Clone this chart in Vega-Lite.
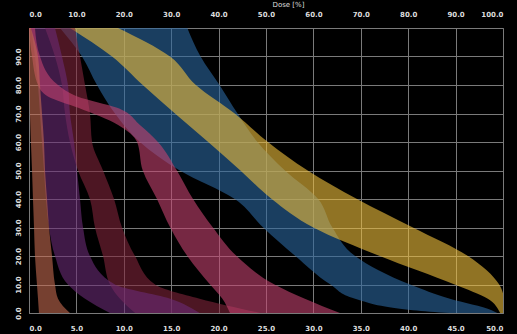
{
  "$schema": "https://vega.github.io/schema/vega-lite/v6.json",
  "width": 474,
  "height": 285,
  "autosize": {"type": "none"},
  "padding": {"left": 29, "top": 28, "right": 14, "bottom": 21},
  "background": "#000000",
  "config": {
    "view": {"stroke": "#7a7a7a", "strokeWidth": 1},
    "axis": {
      "domain": false,
      "ticks": false,
      "gridColor": "#7a7a7a",
      "gridOpacity": 1,
      "gridWidth": 1,
      "labelColor": "#dddddd",
      "labelFont": "DejaVu Sans",
      "labelFontSize": 7,
      "labelFontWeight": "bold",
      "titleColor": "#dddddd",
      "titleFont": "DejaVu Sans",
      "titleFontSize": 7,
      "titleFontWeight": "normal"
    }
  },
  "datasets": {
    "bands": [
      {"band": "B", "vol": 100, "lo": 3.27, "hi": 16.7},
      {"band": "B", "vol": 90, "lo": 5.59, "hi": 18.1},
      {"band": "B", "vol": 80, "lo": 7.17, "hi": 20.1},
      {"band": "B", "vol": 70, "lo": 9.07, "hi": 22.0},
      {"band": "B", "vol": 60, "lo": 11.7, "hi": 24.1},
      {"band": "B", "vol": 50, "lo": 15.9, "hi": 27.0},
      {"band": "B", "vol": 40, "lo": 21.7, "hi": 30.5},
      {"band": "B", "vol": 30, "lo": 24.7, "hi": 32.0},
      {"band": "B", "vol": 20, "lo": 28.1, "hi": 34.4},
      {"band": "B", "vol": 10, "lo": 31.8, "hi": 40.2},
      {"band": "B", "vol": 5, "lo": 34.4, "hi": 44.4},
      {"band": "B", "vol": 1, "lo": 40.5, "hi": 48.8},
      {"band": "B", "vol": 0, "lo": 44.4, "hi": 49.4},
      {"band": "Y", "vol": 100, "lo": 4.32, "hi": 9.39},
      {"band": "Y", "vol": 90, "lo": 8.76, "hi": 14.87},
      {"band": "Y", "vol": 80, "lo": 12.0, "hi": 17.6},
      {"band": "Y", "vol": 70, "lo": 15.4, "hi": 21.7},
      {"band": "Y", "vol": 60, "lo": 18.9, "hi": 25.2},
      {"band": "Y", "vol": 50, "lo": 22.3, "hi": 29.4},
      {"band": "Y", "vol": 40, "lo": 25.6, "hi": 34.6},
      {"band": "Y", "vol": 30, "lo": 30.0, "hi": 40.5},
      {"band": "Y", "vol": 20, "lo": 37.0, "hi": 46.3},
      {"band": "Y", "vol": 10, "lo": 44.9, "hi": 49.6},
      {"band": "Y", "vol": 5, "lo": 48.4, "hi": 50.2},
      {"band": "Y", "vol": 0, "lo": 49.7, "hi": 50.8},
      {"band": "R", "vol": 100, "lo": 1.69, "hi": 4.85},
      {"band": "R", "vol": 90, "lo": 2.74, "hi": 5.38},
      {"band": "R", "vol": 80, "lo": 3.48, "hi": 5.91},
      {"band": "R", "vol": 70, "lo": 3.8, "hi": 6.43},
      {"band": "R", "vol": 60, "lo": 4.32, "hi": 6.65},
      {"band": "R", "vol": 50, "lo": 5.17, "hi": 7.81},
      {"band": "R", "vol": 40, "lo": 6.43, "hi": 8.97},
      {"band": "R", "vol": 30, "lo": 6.96, "hi": 9.81},
      {"band": "R", "vol": 20, "lo": 7.81, "hi": 11.18},
      {"band": "R", "vol": 10, "lo": 8.54, "hi": 13.3},
      {"band": "R", "vol": 5, "lo": 9.6, "hi": 18.0},
      {"band": "R", "vol": 0, "lo": 11.2, "hi": 24.4},
      {"band": "P", "vol": 100, "lo": 0.21, "hi": 2.74},
      {"band": "P", "vol": 90, "lo": 0.63, "hi": 3.48},
      {"band": "P", "vol": 80, "lo": 0.95, "hi": 4.11},
      {"band": "P", "vol": 70, "lo": 1.16, "hi": 4.32},
      {"band": "P", "vol": 60, "lo": 1.37, "hi": 4.75},
      {"band": "P", "vol": 50, "lo": 1.58, "hi": 5.06},
      {"band": "P", "vol": 40, "lo": 1.79, "hi": 5.38},
      {"band": "P", "vol": 30, "lo": 2.11, "hi": 5.7},
      {"band": "P", "vol": 20, "lo": 2.74, "hi": 6.43},
      {"band": "P", "vol": 10, "lo": 4.11, "hi": 9.07},
      {"band": "P", "vol": 5, "lo": 5.91, "hi": 14.9},
      {"band": "P", "vol": 0, "lo": 8.54, "hi": 18.0},
      {"band": "K", "vol": 100, "lo": 0.0, "hi": 0.63},
      {"band": "K", "vol": 90, "lo": 0.32, "hi": 1.16},
      {"band": "K", "vol": 80, "lo": 0.95, "hi": 3.06},
      {"band": "K", "vol": 76, "lo": 2.0, "hi": 5.1},
      {"band": "K", "vol": 72, "lo": 5.2, "hi": 9.3},
      {"band": "K", "vol": 66, "lo": 9.4, "hi": 11.7},
      {"band": "K", "vol": 60, "lo": 11.4, "hi": 13.6},
      {"band": "K", "vol": 50, "lo": 12.0, "hi": 15.6},
      {"band": "K", "vol": 40, "lo": 13.5, "hi": 17.3},
      {"band": "K", "vol": 30, "lo": 14.9, "hi": 19.4},
      {"band": "K", "vol": 20, "lo": 16.7, "hi": 21.9},
      {"band": "K", "vol": 10, "lo": 19.1, "hi": 25.9},
      {"band": "K", "vol": 5, "lo": 20.4, "hi": 29.1},
      {"band": "K", "vol": 0, "lo": 21.2, "hi": 32.8},
      {"band": "O", "vol": 100, "lo": 0.0, "hi": 0.2},
      {"band": "O", "vol": 90, "lo": 0.0, "hi": 0.95},
      {"band": "O", "vol": 80, "lo": 0.0, "hi": 1.16},
      {"band": "O", "vol": 70, "lo": 0.1, "hi": 1.37},
      {"band": "O", "vol": 60, "lo": 0.2, "hi": 1.58},
      {"band": "O", "vol": 50, "lo": 0.32, "hi": 1.69},
      {"band": "O", "vol": 40, "lo": 0.42, "hi": 1.9},
      {"band": "O", "vol": 30, "lo": 0.53, "hi": 2.11},
      {"band": "O", "vol": 20, "lo": 0.63, "hi": 2.43},
      {"band": "O", "vol": 10, "lo": 0.84, "hi": 2.74},
      {"band": "O", "vol": 5, "lo": 0.95, "hi": 3.06},
      {"band": "O", "vol": 0, "lo": 1.05, "hi": 4.32}
    ],
    "topaxis": [{"d": 0}, {"d": 50}]
  },
  "layer": [
    {
      "data": {"name": "bands"},
      "mark": {"type": "area", "orient": "horizontal", "opacity": 0.6, "clip": true, "interpolate": "monotone"},
      "encoding": {
        "y": {
          "field": "vol", "type": "quantitative",
          "scale": {"domain": [0, 100], "nice": false, "zero": false},
          "axis": {
            "title": null, "values": [0, 10, 20, 30, 40, 50, 60, 70, 80, 90],
            "format": ".1f", "labelAngle": -90, "labelAlign": "center",
            "labelBaseline": "bottom", "labelPadding": 8, "grid": true
          }
        },
        "x": {
          "field": "lo", "type": "quantitative",
          "scale": {"domain": [0, 50], "nice": false, "zero": false},
          "axis": {
            "orient": "bottom", "title": null,
            "values": [0, 5, 10, 15, 20, 25, 30, 35, 40, 45, 50],
            "format": ".1f", "labelPadding": 11, "grid": true
          }
        },
        "x2": {"field": "hi"},
        "color": {
          "field": "band", "type": "nominal", "legend": null,
          "scale": {
            "domain": ["B", "Y", "R", "P", "K", "O"],
            "range": ["#2b67a0", "#f0c03c", "#80253a", "#6a2b76", "#c44270", "#c46a50"]
          }
        }
      }
    },
    {
      "data": {"name": "topaxis"},
      "mark": {"type": "point", "opacity": 0},
      "encoding": {
        "x": {
          "field": "d", "type": "quantitative",
          "scale": {"domain": [0, 50], "nice": false, "zero": false},
          "axis": {
            "orient": "top", "title": "Dose [%]",
            "values": [0, 5, 10, 15, 20, 25, 30, 35, 40, 45, 50],
            "labelExpr": "format(datum.value * 2, '.1f')",
            "labelPadding": 11, "grid": false,
            "titleX": 243, "titleY": -24, "titleAlign": "left",
            "titleAnchor": "start", "titleBaseline": "middle"
          }
        }
      }
    }
  ],
  "resolve": {"axis": {"x": "independent"}}
}
